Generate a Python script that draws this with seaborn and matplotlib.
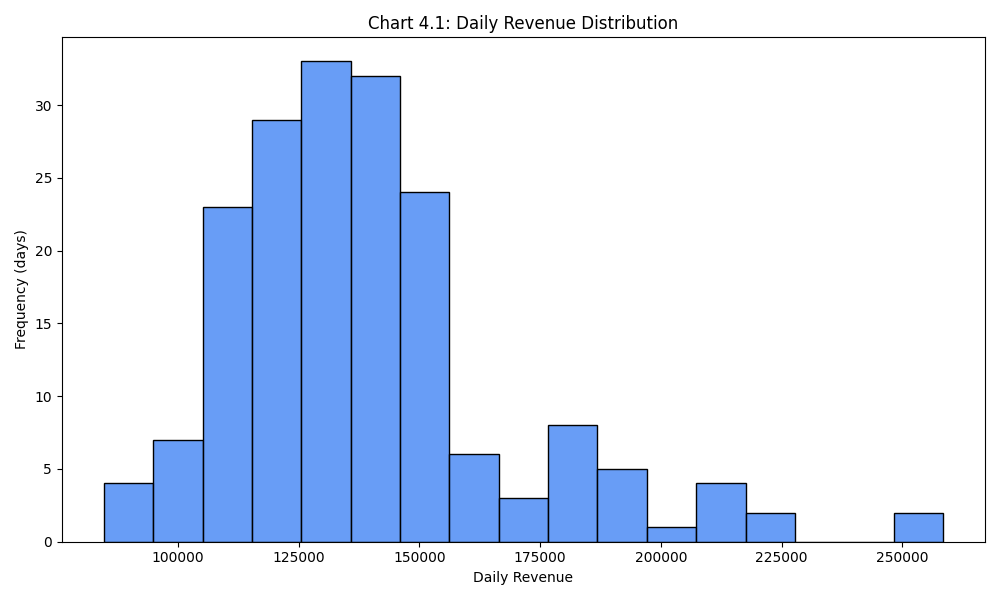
import numpy as np
import pandas as pd
import matplotlib
matplotlib.use('Agg')
import matplotlib.pyplot as plt
import seaborn as sns

# histogram: 17 bins
rev_min = 84700
rev_max = 258400
counts = [4, 7, 23, 29, 33, 32, 24, 6, 3, 8, 5, 1, 4, 2, 0, 0, 2]

edges = np.linspace(rev_min, rev_max, len(counts) + 1)
centers = (edges[:-1] + edges[1:]) / 2
df = pd.DataFrame({'revenue': centers, 'days': counts})

fig, ax = plt.subplots(figsize=(10, 6), dpi=100)
sns.histplot(data=df, x='revenue', weights='days', bins=len(counts),
             binrange=(rev_min, rev_max),
             color='#4285F4', alpha=0.8, edgecolor='black', linewidth=1, ax=ax)

ax.set_title('Chart 4.1: Daily Revenue Distribution')
ax.set_xlabel('Daily Revenue')
ax.set_ylabel('Frequency (days)')
ax.ticklabel_format(axis='x', style='plain')

plt.tight_layout()
plt.savefig('out.png')
